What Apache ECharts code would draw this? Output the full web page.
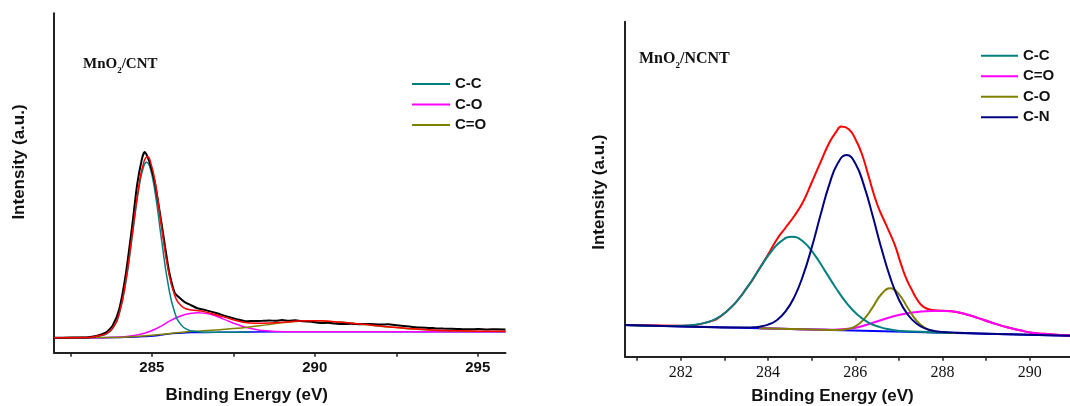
<!DOCTYPE html>
<html>
<head>
<meta charset="utf-8">
<script src="https://cdn.jsdelivr.net/npm/echarts@6/dist/echarts.min.js"></script>
<style>
  html, body { margin: 0; padding: 0; background: #fff; }
  #wrap { position: relative; width: 1070px; height: 406px; }
  #cnt { position: absolute; left: 0; top: 0; width: 560px; height: 406px; }
  #ncnt { position: absolute; left: 560px; top: 0; width: 510px; height: 406px; }
</style>
</head>
<body>
<div id="wrap"><div id="cnt"></div><div id="ncnt"></div></div>
<script>
// ---- MnO2/CNT panel (binding energy eV, intensity a.u.) ----
const cntTicks = [282.5, 285, 287.5, 290, 292.5, 295];
const cntLabels = [285, 290, 295];
const cntLegend = ['C-C', 'C-O', 'C=O'];

const cntBase = [[282, 4.4], [283.5, 4.4], [284, 4.5], [284.5, 4.6], [284.85, 4.8], [285.2, 5.1], [285.5, 5.5],
  [285.8, 5.75], [286.2, 5.95], [287, 6.0], [288, 6.1], [290, 6.15], [295.85, 6.2]];
const cntCC = [[282, 4.4], [283, 4.5], [283.4, 5.0], [283.6, 5.5], [283.8, 7.1], [284.0, 11.4], [284.2, 20.6],
  [284.4, 34.3], [284.6, 48.3], [284.75, 54.9], [284.84, 56.1], [284.95, 54.4], [285.1, 47.3], [285.3, 33.2],
  [285.5, 20.2], [285.7, 11.9], [285.9, 8.2], [286.1, 6.8], [286.3, 6.3], [286.6, 6.05], [287, 6.0], [288, 6.1]];
const cntCO = [[282, 4.4], [283.5, 4.4], [284.0, 4.6], [284.4, 5.0], [284.8, 5.8], [285.2, 7.4], [285.6, 9.6],
  [286.0, 11.2], [286.4, 11.8], [286.8, 11.3], [287.2, 9.9], [287.6, 8.4], [288.0, 7.2], [288.4, 6.55],
  [288.8, 6.25], [289.5, 6.15], [292, 6.2], [295.85, 6.2]];
const cntCdO = [[282, 4.4], [283.5, 4.45], [284.5, 4.8], [285.5, 5.6], [286, 6.1], [286.5, 6.4], [287, 6.7],
  [287.5, 7.1], [288, 7.6], [288.5, 8.2], [289, 8.8], [289.5, 9.3], [289.8, 9.4], [290.2, 9.35], [290.6, 9.1],
  [291, 8.8], [291.5, 8.3], [292, 7.8], [292.5, 7.4], [293, 7.0], [293.5, 6.7], [294, 6.5], [294.5, 6.4],
  [295, 6.3], [295.85, 6.25]];
const cntFit = [[282, 4.4], [283, 4.5], [283.4, 5.05], [283.6, 5.6], [283.8, 7.3], [284.0, 11.6], [284.2, 21.0],
  [284.4, 34.9], [284.6, 49.1], [284.75, 56.0], [284.87, 57.7], [284.95, 56.6], [285.1, 50.5], [285.3, 37.0],
  [285.5, 24.5], [285.7, 17.0], [285.9, 13.8], [286.1, 12.8], [286.3, 12.5], [286.6, 12.1], [287.0, 11.1],
  [287.4, 10.0], [287.8, 9.0], [288.2, 8.7], [288.6, 8.75], [289.0, 8.95], [289.5, 9.35], [289.8, 9.45],
  [290.2, 9.4], [290.6, 9.15], [291, 8.85], [291.5, 8.35], [292, 7.85], [292.5, 7.45], [293, 7.05],
  [293.5, 6.75], [294, 6.55], [294.5, 6.45], [295, 6.35], [295.85, 6.3]];
const cntRaw = [[282, 4.4], [282.5, 4.45], [283, 4.5], [283.3, 4.9], [283.6, 6.0], [283.8, 8.0], [284.0, 12.8],
  [284.2, 23.0], [284.4, 37.5], [284.55, 49.5], [284.7, 57.2], [284.78, 59.1], [284.86, 57.9], [284.95, 55.5],
  [285.1, 49.8], [285.3, 38.0], [285.5, 25.5], [285.6, 21.0], [285.71, 17.5], [285.85, 16.2], [286.0, 15.0],
  [286.2, 14.0], [286.4, 13.1], [286.7, 12.4], [287.0, 11.6], [287.3, 10.7], [287.6, 9.9], [287.9, 9.25],
  [288.1, 9.35], [288.4, 9.4], [288.6, 9.5], [288.8, 9.4], [289.0, 9.6], [289.2, 9.45], [289.4, 9.55],
  [289.65, 9.25], [289.9, 9.15], [290.16, 8.75], [290.4, 8.8], [290.6, 8.6], [290.87, 8.45], [291.1, 8.5],
  [291.4, 8.4], [291.69, 8.45], [292.0, 8.3], [292.25, 8.35], [292.51, 8.1], [292.8, 7.8], [293.0, 7.6],
  [293.23, 7.4], [293.5, 7.3], [293.7, 7.2], [293.94, 7.1], [294.2, 7.05], [294.5, 6.95], [294.76, 6.9],
  [295.0, 6.95], [295.3, 6.85], [295.55, 6.9], [295.85, 6.85]];

// ---- MnO2/NCNT panel ----
const ncntTicks = [281, 282, 283, 284, 285, 286, 287, 288, 289, 290];
const ncntLabels = [282, 284, 286, 288, 290];
const ncntLegend = ['C-C', 'C=O', 'C-O', 'C-N'];

const ncntBase = [[280.72, 9.45], [290.92, 6.29]];
const ncntCC = [[280.72, 9.45], [281.5, 9.2], [282.05, 9.25], [282.3, 9.5], [282.55, 10.1], [282.8, 11.3],
  [283.05, 13.5], [283.3, 16.8], [283.55, 21.2], [283.8, 26.2], [284.05, 31.0], [284.3, 34.5], [284.55, 35.8],
  [284.8, 34.4], [285.05, 30.7], [285.3, 25.7], [285.55, 20.6], [285.8, 16.0], [286.05, 12.5], [286.3, 10.2],
  [286.55, 8.9], [286.8, 8.1], [287.05, 7.7], [287.3, 7.5], [287.8, 7.26], [288.2, 7.13]];
const ncntCdO = [[283.8, 8.5], [284.5, 8.28], [285.0, 8.12], [285.5, 8.05], [285.9, 8.4], [286.3, 9.7],
  [286.8, 11.8], [287.2, 13.0], [287.6, 13.6], [287.9, 13.75], [288.2, 13.6], [288.55, 12.6], [288.8, 11.6],
  [289.1, 10.3], [289.5, 8.7], [289.8, 7.8], [290.0, 7.25], [290.3, 6.85], [290.6, 6.55], [290.92, 6.35]];
const ncntCO = [[283.8, 8.5], [285.0, 8.12], [285.6, 7.96], [285.8, 8.2], [286.0, 9.05], [286.2, 11.2],
  [286.4, 14.8], [286.6, 18.7], [286.8, 20.4], [287.0, 18.6], [287.2, 14.6], [287.4, 10.8], [287.6, 8.56],
  [287.8, 7.6], [288.0, 7.26], [288.3, 7.1]];
const ncntCN = [[280.72, 9.45], [282, 9.05], [283.4, 8.7], [283.6, 8.75], [283.8, 8.96], [284.0, 9.56],
  [284.2, 10.9], [284.4, 13.5], [284.6, 17.8], [284.8, 24.2], [285.0, 32.6], [285.2, 42.2], [285.4, 51.3],
  [285.6, 57.8], [285.8, 60.2], [286.0, 57.7], [286.2, 51.0], [286.4, 41.9], [286.6, 32.2], [286.8, 23.6],
  [287.0, 17.0], [287.2, 12.6], [287.4, 9.9], [287.6, 8.45], [287.8, 7.7], [288.0, 7.36], [288.2, 7.19],
  [289, 6.88], [290.92, 6.29]];
const ncntFit = [[280.72, 9.45], [282.0, 9.25], [282.55, 10.1], [283.05, 13.5], [283.55, 21.2], [283.8, 26.3],
  [284.0, 30.5], [284.2, 35.0], [284.4, 38.5], [284.6, 42.0], [284.8, 46.2], [285.0, 52.0], [285.2, 58.0],
  [285.4, 63.8], [285.55, 66.9], [285.68, 68.7], [285.85, 67.9], [286.0, 65.0], [286.15, 60.5], [286.3, 54.0],
  [286.5, 45.5], [286.7, 39.5], [286.9, 33.5], [287.05, 27.5], [287.18, 22.9], [287.3, 19.8], [287.4, 17.4],
  [287.5, 15.6], [287.63, 14.4], [287.86, 13.8], [288.2, 13.6], [288.55, 12.6], [288.8, 11.6], [289.1, 10.3],
  [289.5, 8.7], [289.8, 7.8], [290.0, 7.25], [290.3, 6.85], [290.6, 6.55], [290.92, 6.35]];

const TEAL = '#008080', MAGENTA = '#ff00ff', OLIVE = '#808000', NAVY = '#000080';
const SANS = '"Liberation Sans", Arial, sans-serif';
const SERIF = '"Liberation Serif", "Times New Roman", serif';

function line(name, data, color, width, smooth) {
  return {
    name: name, type: 'line', data: data, showSymbol: false, silent: true,
    smooth: smooth === undefined ? 0.5 : smooth,
    lineStyle: { color: color, width: width }, itemStyle: { color: color }
  };
}

function axisName(pad) {
  return { fontFamily: SANS, fontWeight: 'bold', fontSize: 17, color: '#111', padding: pad };
}

// 左图 MnO2/CNT
const chartL = echarts.init(document.getElementById('cnt'), null, { renderer: 'canvas' });
chartL.setOption({
  animation: false,
  backgroundColor: '#fff',
  grid: { left: 54, right: 54.5, top: 13.3, bottom: 53.3, outerBoundsMode: 'none' },
  xAxis: {
    type: 'value', min: 282, max: 295.85,
    axisLine: { show: true, lineStyle: { color: '#222', width: 2 } },
    axisTick: { show: true, customValues: cntTicks, length: 4, lineStyle: { color: '#222', width: 1.5 } },
    axisLabel: { customValues: cntLabels, fontFamily: SANS, fontWeight: 'bold', fontSize: 15, color: '#111', margin: 8 },
    splitLine: { show: false },
    name: 'Binding Energy (eV)', nameLocation: 'middle', nameGap: 34,
    nameTextStyle: axisName([0, 66, 0, 0])
  },
  yAxis: {
    type: 'value', min: 0, max: 100,
    axisLine: { show: true, lineStyle: { color: '#222', width: 2 } },
    axisTick: { show: false }, axisLabel: { show: false }, splitLine: { show: false },
    name: 'Intensity (a.u.)', nameLocation: 'middle', nameGap: 26,
    nameTextStyle: axisName([0, 0, 0, 42])
  },
  legend: {
    orient: 'vertical', left: 407, top: 68.75, itemWidth: 38, itemHeight: 2, icon: 'rect', itemGap: 0,
    data: cntLegend,
    textStyle: { fontFamily: SANS, fontWeight: 'bold', fontSize: 15, color: '#111', lineHeight: 20.5 }
  },
  graphic: [{
    type: 'text', left: 83, top: 57,
    style: {
      text: '{a|MnO}{s|2}{a|/CNT}',
      rich: {
        a: { fontFamily: SERIF, fontWeight: 'bold', fontSize: 15, lineHeight: 22, fill: '#111' },
        s: { fontFamily: SERIF, fontWeight: 'bold', fontSize: 9, verticalAlign: 'bottom', fill: '#111' }
      }
    }
  }],
  series: [
    line('base', cntBase, '#0000ff', 1.5),
    line('C-O', cntCO, MAGENTA, 1.5),
    line('C=O', cntCdO, OLIVE, 1.5),
    line('C-C', cntCC, TEAL, 1.5),
    line('raw', cntRaw, '#000', 2, 0.2),
    line('fit', cntFit, '#ff0000', 1.5)
  ]
});

// 右图 MnO2/NCNT
const chartR = echarts.init(document.getElementById('ncnt'), null, { renderer: 'canvas' });
chartR.setOption({
  animation: false,
  backgroundColor: '#fff',
  grid: { left: 65, right: 0, top: 21.7, bottom: 49.3, outerBoundsMode: 'none' },
  xAxis: {
    type: 'value', min: 280.72, max: 290.92,
    axisLine: { show: true, lineStyle: { color: '#222', width: 2 } },
    axisTick: { show: true, customValues: ncntTicks, length: 4, lineStyle: { color: '#222', width: 1.5 } },
    axisLabel: { customValues: ncntLabels, fontFamily: SERIF, fontSize: 16, color: '#111', margin: 8.5 },
    splitLine: { show: false },
    name: 'Binding Energy (eV)', nameLocation: 'middle', nameGap: 31,
    nameTextStyle: axisName([0, 30, 0, 0])
  },
  yAxis: {
    type: 'value', min: 0, max: 100,
    axisLine: { show: true, lineStyle: { color: '#222', width: 2 } },
    axisTick: { show: false }, axisLabel: { show: false }, splitLine: { show: false },
    name: 'Intensity (a.u.)', nameLocation: 'middle', nameGap: 17,
    nameTextStyle: axisName([0, 6, 0, 0])
  },
  legend: {
    orient: 'vertical', left: 416, top: 40.5, itemWidth: 37, itemHeight: 2, icon: 'rect', itemGap: 0,
    data: ncntLegend,
    textStyle: { fontFamily: SANS, fontWeight: 'bold', fontSize: 15, color: '#111', lineHeight: 20.5 }
  },
  graphic: [{
    type: 'text', left: 79, top: 51,
    style: {
      text: '{a|MnO}{s|2}{a|/NCNT}',
      rich: {
        a: { fontFamily: SERIF, fontWeight: 'bold', fontSize: 16, lineHeight: 22, fill: '#111' },
        s: { fontFamily: SERIF, fontWeight: 'bold', fontSize: 9, verticalAlign: 'bottom', fill: '#111' }
      }
    }
  }],
  series: [
    line('base', ncntBase, '#0000ff', 2, false),
    line('fit', ncntFit, '#ff0000', 2),
    line('C=O', ncntCdO, MAGENTA, 2),
    line('C-O', ncntCO, OLIVE, 2),
    line('C-C', ncntCC, TEAL, 2),
    line('C-N', ncntCN, NAVY, 2)
  ]
});
</script>
</body>
</html>
